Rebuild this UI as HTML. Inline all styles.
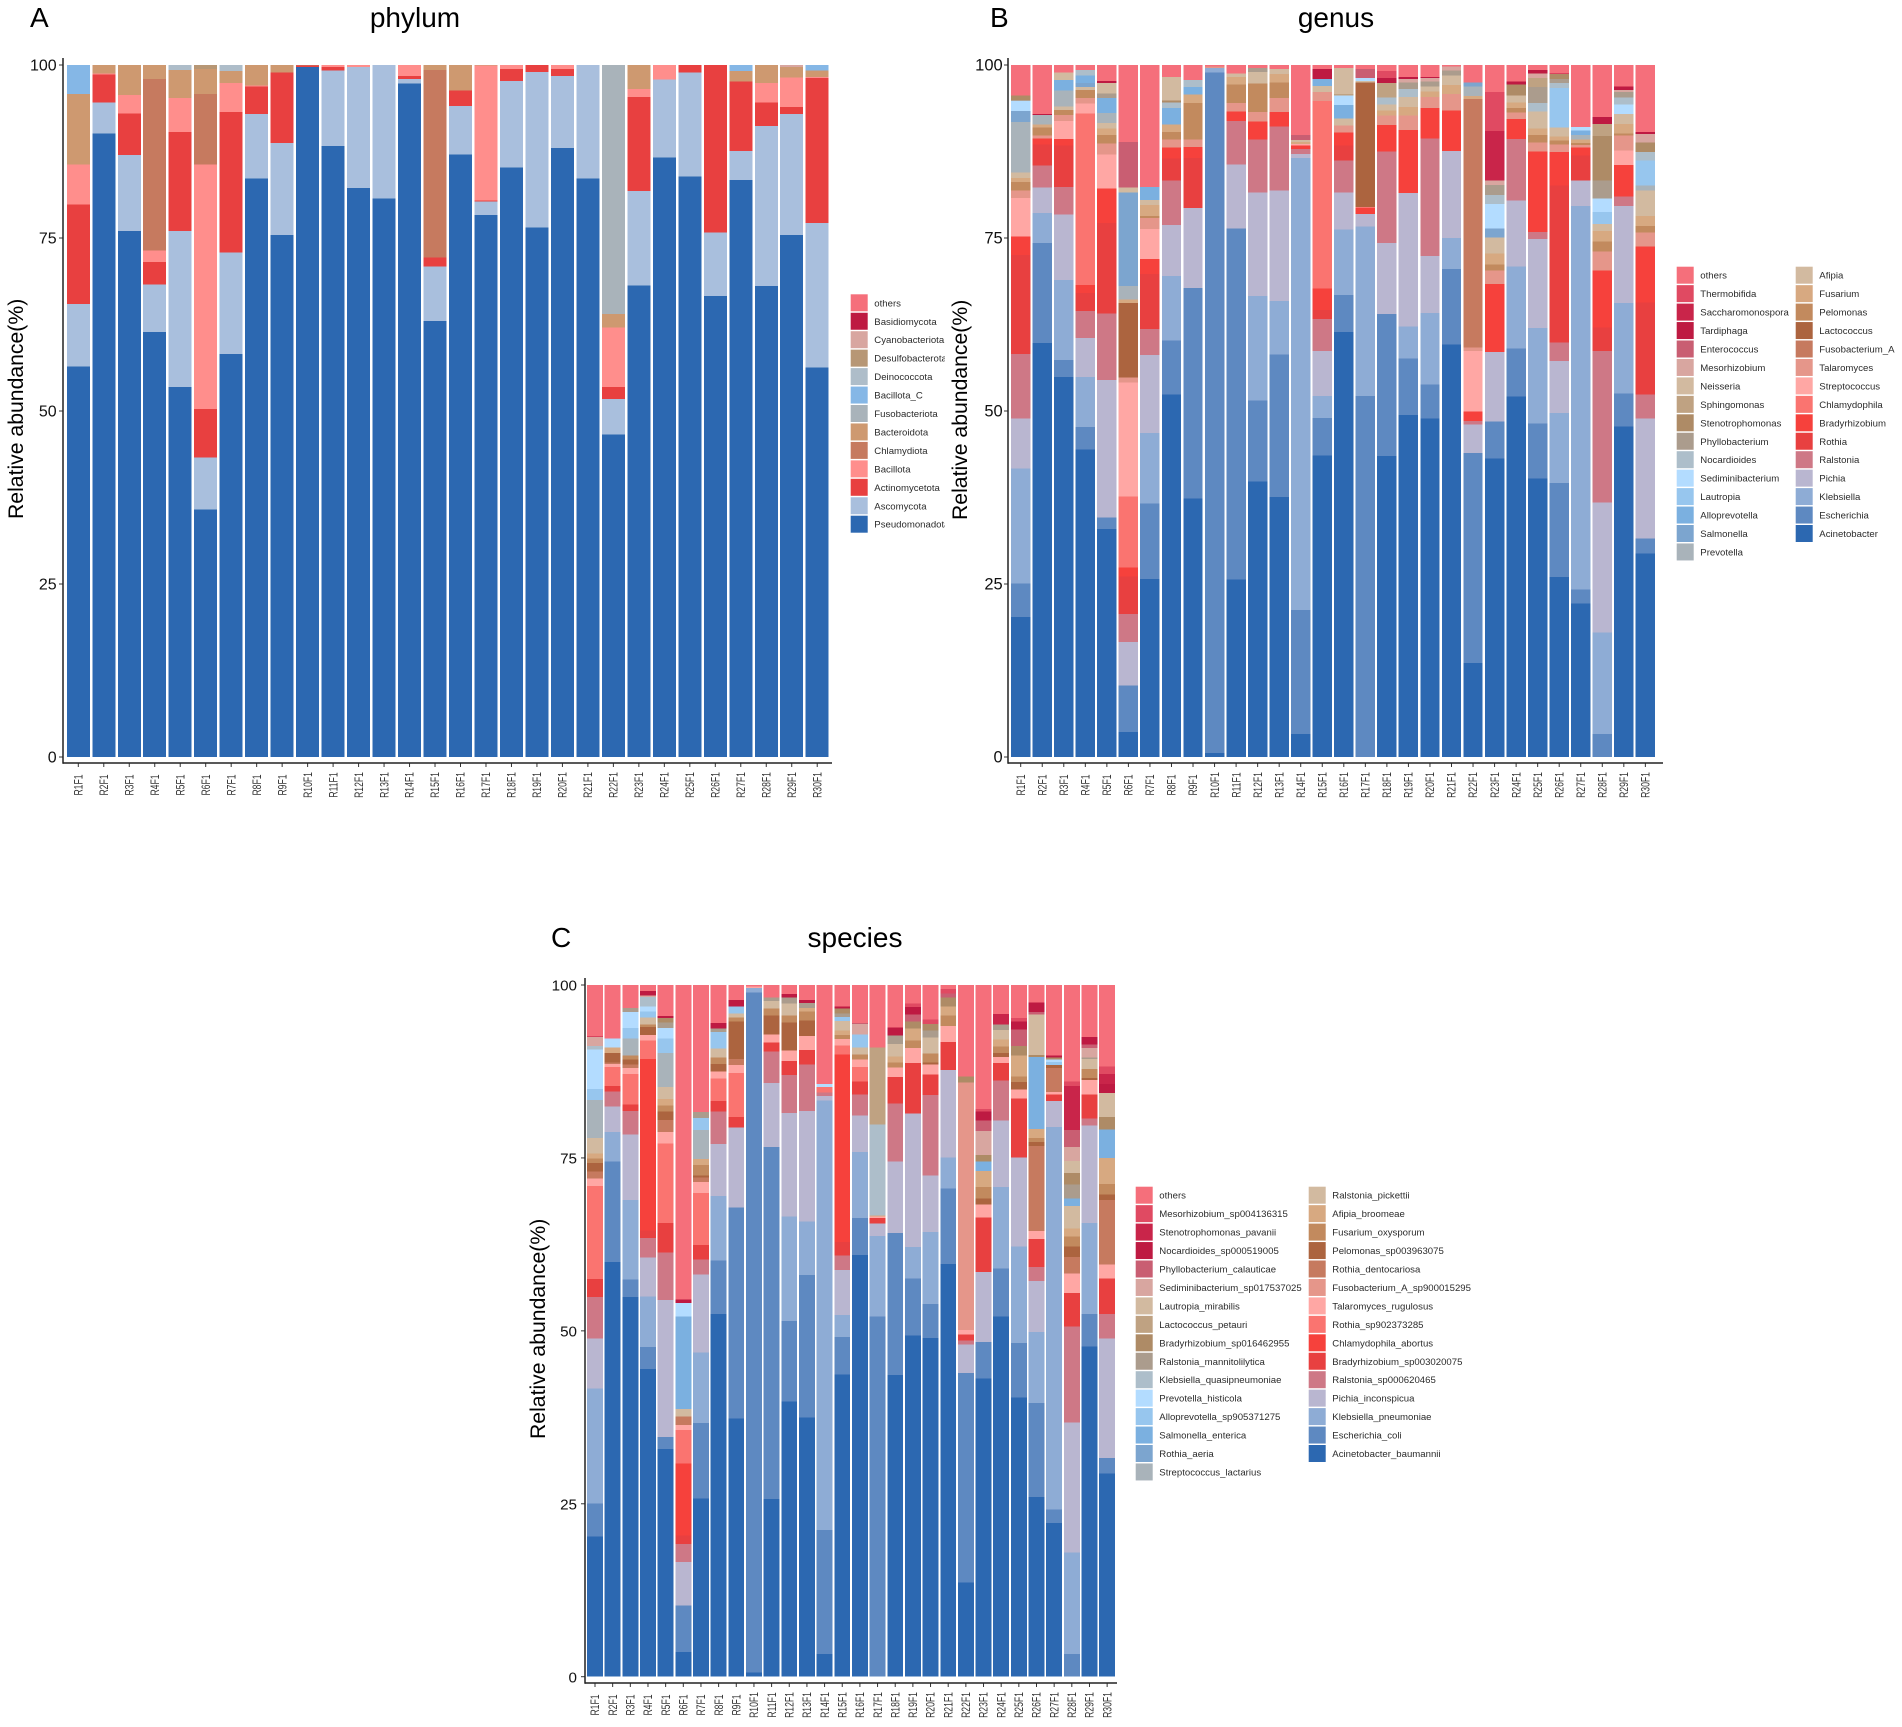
<!DOCTYPE html>
<html lang="en">
<head>
<meta charset="utf-8">
<title>Relative abundance by phylum, genus and species</title>
<style>
html,body{margin:0;padding:0;background:#fff;}
svg{display:block;font-family:"Liberation Sans",Arial,sans-serif;}
</style>
</head>
<body>
<svg id="figure" xmlns="http://www.w3.org/2000/svg" width="1902" height="1727" viewBox="0 0 1902 1727">
<rect x="0" y="0" width="1902" height="1727" fill="#ffffff"/>
<defs><clipPath id="phylum-legend-clip"><rect x="840" y="280" width="105" height="270"/></clipPath></defs>
<text x="30" y="27" font-size="28" fill="#000">A</text>
<text x="990" y="27" font-size="28" fill="#000">B</text>
<text x="551" y="947" font-size="28" fill="#000">C</text>
<text x="415" y="27" font-size="28" text-anchor="middle" fill="#000">phylum</text>
<text x="1336" y="27" font-size="28" text-anchor="middle" fill="#000">genus</text>
<text x="855" y="947" font-size="28" text-anchor="middle" fill="#000">species</text>
<text transform="translate(23,519) rotate(-90)" font-size="21.2" fill="#000">Relative abundance(%)</text>
<text transform="translate(967,520) rotate(-90)" font-size="21.2" fill="#000">Relative abundance(%)</text>
<text transform="translate(545,1439) rotate(-90)" font-size="21.2" fill="#000">Relative abundance(%)</text>
<g id="panel-a"></g>
<g id="panel-b"></g>
<g id="panel-c"></g>
</svg>
<script>
const sampleLabels=["R1F1","R2F1","R3F1","R4F1","R5F1","R6F1","R7F1","R8F1","R9F1","R10F1","R11F1","R12F1","R13F1","R14F1","R15F1","R16F1","R17F1","R18F1","R19F1","R20F1","R21F1","R22F1","R23F1","R24F1","R25F1","R26F1","R27F1","R28F1","R29F1","R30F1"];
const yTickValues=[0,25,50,75,100];

const phylumTaxa=["Pseudomonadota","Ascomycota","Actinomycetota","Bacillota","Chlamydiota","Bacteroidota","Fusobacteriota","Bacillota_C","Deinococcota","Desulfobacterota","Cyanobacteriota","Basidiomycota","others"];
const phylumColors=["#2C68B1","#A9BFDD","#E84040","#FF8E8C","#C67A5F","#CE9970","#A9B3BA","#85B7E6","#AEBDC9","#B79775","#D8A6A0","#BE1A42","#F56F7B"];
const phylumR1=[56.5,9,14.4,5.8,0,10.2,0,4.2,0,0,0,0,0];
const phylumR2=[90.1,4.5,4,.2,0,1.2,0,0,0,0,0,0,0];
const phylumR3=[76,11,6,2.7,0,4.3,0,0,0,0,0,0,0];
const phylumR4=[61.4,6.9,3.2,1.7,24.8,2,0,0,0,0,0,0,0];
const phylumR5=[53.5,22.5,14.3,4.9,0,4.1,0,0,.7,0,0,0,0];
const phylumR6=[35.8,7.5,7,35.3,10.2,3.6,0,0,0,.6,0,0,0];
const phylumR7=[58.2,14.6,20.3,4.2,0,1.7,0,0,.9,0,0,0,0];
const phylumR8=[83.7,9.3,4,.1,0,3,0,0,0,0,0,0,0];
const phylumR9=[75.4,13.3,10.2,0,0,1.1,0,0,0,0,0,0,0];
const phylumR10=[99.7,0,.2,0,.1,0,0,0,0,0,0,0,0];
const phylumR11=[88.3,10.9,.5,.3,0,0,0,0,0,0,0,0,0];
const phylumR12=[82.2,17.5,0,.3,0,0,0,0,0,0,0,0,0];
const phylumR13=[80.7,19.3,0,0,0,0,0,0,0,0,0,0,0];
const phylumR14=[97.3,.7,.4,1.6,0,0,0,0,0,0,0,0,0];
const phylumR15=[63,7.9,1.3,0,27.1,.7,0,0,0,0,0,0,0];
const phylumR16=[87.1,7,2.2,0,0,3.7,0,0,0,0,0,0,0];
const phylumR17=[78.3,2,.1,19.5,0,.1,0,0,0,0,0,0,0];
const phylumR18=[85.2,12.5,1.7,.6,0,0,0,0,0,0,0,0,0];
const phylumR19=[76.5,22.5,1,0,0,0,0,0,0,0,0,0,0];
const phylumR20=[88,10.4,1,.6,0,0,0,0,0,0,0,0,0];
const phylumR21=[83.6,16.4,0,0,0,0,0,0,0,0,0,0,0];
const phylumR22=[46.6,5.1,1.8,8.6,0,1.9,36,0,0,0,0,0,0];
const phylumR23=[68.1,13.7,13.6,1.1,0,3.5,0,0,0,0,0,0,0];
const phylumR24=[86.6,11.3,0,2.1,0,0,0,0,0,0,0,0,0];
const phylumR25=[83.9,15,1.1,0,0,0,0,0,0,0,0,0,0];
const phylumR26=[66.6,9.2,24.2,0,0,0,0,0,0,0,0,0,0];
const phylumR27=[83.4,4.2,10,0,0,1.5,0,.9,0,0,0,0,0];
const phylumR28=[68,23.1,3.4,2.8,0,2.6,0,0,0,0,0,0,0];
const phylumR29=[75.4,17.5,1,4.3,0,1.5,0,0,0,0,.3,0,0];
const phylumR30=[56.3,20.9,20.9,.2,0,.9,0,.8,0,0,0,0,0];
const phylumStacks=[phylumR1,phylumR2,phylumR3,phylumR4,phylumR5,phylumR6,phylumR7,phylumR8,phylumR9,phylumR10,phylumR11,phylumR12,phylumR13,phylumR14,phylumR15,phylumR16,phylumR17,phylumR18,phylumR19,phylumR20,phylumR21,phylumR22,phylumR23,phylumR24,phylumR25,phylumR26,phylumR27,phylumR28,phylumR29,phylumR30];

const sharedColors=["#2C68B1","#5E89C1","#8EACD5","#B9B6D0","#CE7886","#E84040","#F6413C","#FA7470","#FFA7A4","#E5968A","#C67A5F","#AC643F","#C28A5E","#D7A981","#D2BAA0","#A9B3BA","#7CA5CF","#7BB0E0","#97C6EE","#B3DCFF","#ADBECA","#AB9C8D","#AE8B66","#BFA282","#D2BAA0","#D8A6A0","#C95E72","#BE1A42","#C9254A","#E04A62","#F56F7B"];

const genusTaxa=["Acinetobacter","Escherichia","Klebsiella","Pichia","Ralstonia","Rothia","Bradyrhizobium","Chlamydophila","Streptococcus","Talaromyces","Fusobacterium_A","Lactococcus","Pelomonas","Fusarium","Afipia","Prevotella","Salmonella","Alloprevotella","Lautropia","Sediminibacterium","Nocardioides","Phyllobacterium","Stenotrophomonas","Sphingomonas","Neisseria","Mesorhizobium","Enterococcus","Tardiphaga","Saccharomonospora","Thermobifida","others"];
const genusR1=[20.2,4.8,16.6,7.2,9.3,14.3,2.7,0,5.5,1.1,0,0,1.2,.6,.8,7.3,1.6,0,0,1.4,.1,0,.7,0,0,0,0,0,0,0,4.4];
const genusR2=[59.8,14.5,4.3,3.7,3.2,3,.9,0,0,.4,0,0,1.2,.4,0,1.4,0,0,0,0,0,0,0,0,0,0,0,.1,0,0,7.1];
const genusR3=[54.9,2.5,11.5,9.5,4,6,.9,0,2.6,.9,0,0,.7,0,.5,2.3,0,1.5,0,0,0,0,0,0,1.1,0,0,0,0,0,1.1];
const genusR4=[44.5,3.2,7.3,5.6,3.9,2.6,1.2,24.8,1.4,.8,0,0,1.2,0,.4,0,.6,1.1,0,0,.8,0,0,0,0,0,0,0,0,0,.7];
const genusR5=[32.9,1.7,0,19.8,9.6,13.1,5,0,4.9,1.6,0,0,1.2,.9,.8,1.5,0,2.1,0,0,0,.7,0,0,1.5,0,0,.3,0,0,2.3];
const genusR6=[3.6,6.7,0,6.3,4,5.4,1.3,10.3,16.4,.7,0,10.8,0,.5,0,1.9,13.5,0,0,0,0,0,0,0,.7,0,6.6,0,0,0,11.1];
const genusR7=[25.7,10.9,10.2,11.2,3.8,7.9,2.2,0,4.3,1.6,0,0,.3,1.6,.7,0,0,1.9,0,0,0,0,0,0,0,0,0,0,0,0,17.6];
const genusR8=[52.4,7.8,9.3,7.4,6.4,3.2,1.6,0,0,1.1,0,0,1.1,1.1,0,0,0,2.4,0,0,.8,0,.3,0,3.4,0,0,0,0,0,1.7];
const genusR9=[37.4,30.5,0,11.6,0,7.2,1.6,0,0,1.1,0,0,5.3,1.2,0,0,0,1.1,0,0,1,0,0,0,0,0,0,0,0,0,2.2];
const genusR10=[.6,98.2,.7,0,0,0,0,0,0,.2,0,0,0,0,0,0,0,0,0,0,0,0,0,0,0,0,0,0,0,0,.2];
const genusR11=[25.6,50.7,0,9.2,6.3,0,1.4,0,0,1.2,0,0,2.7,1.1,0,0,0,0,0,0,0,0,0,0,.5,0,0,0,0,0,1.2];
const genusR12=[39.8,11.7,15.1,15,7.6,0,2.6,0,0,1.4,0,0,4.1,0,1.7,0,0,0,0,0,0,.6,0,0,0,0,0,0,0,0,.4];
const genusR13=[37.5,20.6,7.7,16,9.2,0,2.1,0,0,2,0,0,2.3,1.2,0,0,0,0,0,0,0,0,0,0,.7,0,0,0,0,0,.6];
const genusR14=[3.3,17.9,65.2,.6,.7,0,.5,0,.2,0,0,0,0,.3,.3,0,0,0,0,0,0,0,0,0,0,0,.7,0,0,0,10.1];
const genusR15=[43.6,5.4,3.2,6.5,4.6,1.3,3.1,27.1,0,1.3,0,0,0,0,.9,0,0,1,0,0,0,0,0,0,0,0,0,1.4,0,0,.6];
const genusR16=[61.3,5.3,9.5,5.3,4.6,2.2,1.9,0,0,1,0,0,0,0,1,0,0,1.9,0,1.4,0,0,0,.2,3.8,0,0,0,0,0,.4];
const genusR17=[0,52.1,24.5,1.8,0,0,.9,0,.1,0,0,18,0,0,.2,0,0,0,0,.4,0,0,0,0,0,0,1.3,0,0,0,.6];
const genusR18=[43.5,20.5,0,10.3,13.2,0,3.8,0,0,1.4,0,0,0,.7,.9,0,0,0,0,0,1,0,0,2.1,0,0,0,.7,0,1,.9];
const genusR19=[49.4,8.2,4.6,19.3,0,0,9.1,0,0,2.1,0,0,0,1.2,1.5,0,0,0,0,0,1.1,1,0,0,0,.5,0,.3,0,0,1.7];
const genusR20=[48.9,4.9,10.3,8.2,17,0,4.4,0,0,1.6,0,0,0,.8,.7,0,0,0,0,0,0,.7,0,0,0,.5,0,.2,0,0,1.7];
const genusR21=[59.6,10.9,4.5,12.6,0,0,5.8,0,0,2.4,0,0,0,1.3,1.4,0,0,0,0,0,0,.7,0,0,0,.6,0,0,0,0,.2];
const genusR22=[13.6,30.3,0,4.1,.5,0,1.4,0,8.7,.5,35.9,0,0,.4,0,1.4,.6,0,0,0,0,0,0,0,0,0,0,0,0,0,2.5];
const genusR23=[43.1,5.3,0,10.1,0,0,9.8,0,0,1.9,0,0,.9,1.6,2.3,0,1.3,0,0,3.5,1.3,1.5,0,0,0,.6,0,0,7.2,5.6,3.9];
const genusR24=[52.1,6.9,11.9,9.5,8.9,0,2.9,0,0,.9,0,0,.7,.8,1,0,0,0,0,0,0,0,1.6,0,0,0,0,.4,0,0,2.4];
const genusR25=[40.3,8,13.8,12.9,1,0,11.7,0,0,1.3,0,0,1.1,.9,2.5,0,0,0,0,0,1.2,2.3,0,1.3,0,.7,0,.5,0,0,.7];
const genusR26=[26,13.6,10.1,7.5,2.7,22.7,4.8,0,0,1.1,0,0,.6,.6,1.3,0,0,0,5.7,0,.7,.6,.7,0,0,0,0,.1,0,0,1.2];
const genusR27=[22.2,2,55.5,3.7,0,3.6,1.2,0,0,.3,0,0,.3,.5,0,.7,0,.6,0,.5,0,0,0,0,0,0,0,0,0,0,9];
const genusR28=[0,3.3,14.7,18.8,21.9,3.4,8.3,0,0,2.7,0,0,1.5,1.5,1,0,0,0,1.7,2,0,2.6,6.4,1.8,0,0,0,1,0,0,7.5];
const genusR29=[47.7,4.7,13.1,14,1.3,0,4.6,0,2.1,2.1,0,0,.3,1.4,1.4,0,0,0,0,1.4,1,.8,0,0,0,.3,0,.5,0,0,3.1];
const genusR30=[29.4,2.2,0,17.3,3.5,13.3,8.1,0,0,2,0,0,.9,1.5,3.7,.7,0,0,3.6,0,1.2,0,1.4,0,0,1.2,0,.3,0,0,9.7];
const genusStacks=[genusR1,genusR2,genusR3,genusR4,genusR5,genusR6,genusR7,genusR8,genusR9,genusR10,genusR11,genusR12,genusR13,genusR14,genusR15,genusR16,genusR17,genusR18,genusR19,genusR20,genusR21,genusR22,genusR23,genusR24,genusR25,genusR26,genusR27,genusR28,genusR29,genusR30];

const speciesTaxa=["Acinetobacter_baumannii","Escherichia_coli","Klebsiella_pneumoniae","Pichia_inconspicua","Ralstonia_sp000620465","Bradyrhizobium_sp003020075","Chlamydophila_abortus","Rothia_sp902373285","Talaromyces_rugulosus","Fusobacterium_A_sp900015295","Rothia_dentocariosa","Pelomonas_sp003963075","Fusarium_oxysporum","Afipia_broomeae","Ralstonia_pickettii","Streptococcus_lactarius","Rothia_aeria","Salmonella_enterica","Alloprevotella_sp905371275","Prevotella_histicola","Klebsiella_quasipneumoniae","Ralstonia_mannitolilytica","Bradyrhizobium_sp016462955","Lactococcus_petauri","Lautropia_mirabilis","Sediminibacterium_sp017537025","Phyllobacterium_calauticae","Nocardioides_sp000519005","Stenotrophomonas_pavanii","Mesorhizobium_sp004136315","others"];
const speciesR1=[20.2,4.8,16.6,7.2,6,2.6,0,13.4,1.1,0,1,1.2,.7,.7,2.2,5.5,0,0,1.6,5.7,.5,0,0,0,0,1.3,0,.1,0,0,7.4];
const speciesR2=[59.8,14.5,4.3,3.7,2.1,.8,0,2.8,.4,0,.2,1.4,0,.8,0,0,0,0,0,1.3,0,0,0,0,0,0,0,0,0,0,7.7];
const speciesR3=[54.9,2.5,11.5,9.5,3.4,.9,0,4.4,.9,0,.5,.7,.6,0,0,2.5,0,0,1.5,2.3,0,.6,0,0,0,0,0,0,0,0,3.3];
const speciesR4=[44.5,3.2,7.3,5.6,2.8,1.1,24.8,2.7,.8,0,0,1.1,.4,0,1,0,0,0,.9,.7,1.4,0,0,0,0,.2,0,.6,0,0,.9];
const speciesR5=[32.9,1.7,0,19.8,6.9,4.2,0,11.5,1.7,0,1.7,1.2,.9,.9,1.8,4.9,0,0,2.1,1.5,0,.8,.6,0,0,0,0,.3,0,0,4.5];
const speciesR6=[3.6,6.7,0,6.3,2.6,1.2,10.4,4.9,.7,0,1.2,0,0,0,1.1,0,0,13.4,0,1.9,0,0,0,0,0,0,0,.5,0,0,45.5];
const speciesR7=[25.7,10.9,10.2,11.2,2.2,2.1,0,7.5,1.6,0,.6,.3,1.5,.9,0,4.2,0,0,1.7,0,0,.9,0,0,0,0,0,0,0,0,18.3];
const speciesR8=[52.4,7.8,9.3,7.5,4.7,1.5,0,3.3,1,0,0,1.1,.9,0,1.3,0,0,0,2.4,0,0,.5,0,0,0,0,0,.8,0,0,5.5];
const speciesR9=[37.4,30.5,0,11.6,0,1.5,0,6.4,1.1,0,.9,5.4,.6,0,.6,0,0,0,1,0,0,0,0,0,0,0,0,.9,0,0,2.2];
const speciesR10=[.6,98.2,.7,0,0,0,0,0,.2,0,0,0,0,0,0,0,0,0,0,0,0,0,0,0,0,0,0,0,0,0,.2];
const speciesR11=[25.6,50.7,0,9.2,4.5,1.3,0,0,1.2,0,0,2.7,1,0,1.1,0,0,0,0,0,0,.5,0,0,0,0,0,0,0,0,1.8];
const speciesR12=[39.8,11.7,15.1,15,5.5,2,0,0,1.5,0,0,4.1,1,0,1.7,0,0,0,0,0,0,.9,0,0,0,0,0,.5,0,0,1.3];
const speciesR13=[37.5,20.6,7.7,16,6.7,2.1,0,0,2,0,0,2.3,1.3,.5,0,0,0,0,0,0,0,.7,0,0,0,0,0,.4,0,0,2.2];
const speciesR14=[3.3,17.9,62,.7,.5,0,0,.8,0,0,0,0,0,0,0,0,0,0,0,.4,0,0,0,0,0,0,0,0,0,0,14.3];
const speciesR15=[43.6,5.4,3.2,6.5,2.1,1.9,27.1,1.3,.9,0,0,0,.6,.6,1.4,0,0,0,.6,0,0,.5,.7,0,0,0,0,.3,0,0,3.1];
const speciesR16=[61.3,5.4,9.6,5.3,3.1,1.9,0,2.1,1.1,0,0,0,.7,0,1,0,0,0,1.9,0,0,0,0,0,0,1.6,0,.1,0,0,5.5];
const speciesR17=[0,52.1,11.6,1.8,0,.8,0,0,.2,0,0,0,0,.2,0,0,0,0,0,0,13.1,0,0,11.2,0,0,0,0,0,0,9];
const speciesR18=[43.5,20.5,0,10.3,8.4,3.8,0,0,1.4,0,0,0,.7,.9,1.8,0,0,0,0,0,0,1.2,0,0,0,0,0,1.2,0,0,6.1];
const speciesR19=[49.4,8.2,4.6,19.3,0,7.3,0,0,2.2,0,0,0,1.1,1.7,0,0,0,0,0,0,0,0,1,0,0,0,1,1.1,0,.5,2.7];
const speciesR20=[48.9,4.9,10.4,8.2,11.6,3,0,0,1.4,0,0,.3,1.3,0,2.3,0,0,0,0,0,0,1,1,0,0,0,0,0,0,.6,5];
const speciesR21=[59.6,10.9,4.5,12.6,0,4.1,0,0,2.3,0,0,0,1.5,1.3,0,0,0,0,0,0,0,0,1.3,0,0,0,.6,0,0,.6,.6];
const speciesR22=[13.6,30.3,0,4.1,.6,.9,0,0,.6,35.8,0,0,0,0,0,0,0,0,0,0,0,0,.9,0,0,0,0,0,0,0,13.2];
const speciesR23=[43.1,5.3,0,10.1,0,7.9,0,0,1.9,0,0,.8,1.7,2.3,0,0,0,1.4,0,0,0,0,.9,0,0,3.5,1.5,1.3,0,.4,17.9];
const speciesR24=[52.1,6.9,11.8,9.6,5.8,2.5,0,0,.9,0,0,.6,.9,1,1.4,0,0,0,0,0,0,.8,0,0,0,0,0,0,1.5,0,4.2];
const speciesR25=[40.3,7.9,13.9,12.9,0,8.5,0,0,1.3,0,0,1.1,.8,3,0,0,0,0,0,0,0,0,1.4,0,0,0,2.4,1.1,0,.5,4.8];
const speciesR26=[26,13.6,10.2,7.4,2,4.1,0,0,1.1,0,12.3,.6,.6,1.3,0,0,0,10.4,0,0,0,0,.3,0,5.8,0,.4,1.4,0,0,2.5];
const speciesR27=[22.2,2,55.3,3.7,0,1,0,0,.3,0,3.5,.4,0,0,0,0,0,0,.5,.3,0,0,.3,0,0,0,0,.3,0,0,10.2];
const speciesR28=[0,3.3,14.7,18.8,13.9,4.9,0,0,2.8,0,2.4,1.5,1.5,1.1,3.3,0,0,1.1,0,0,0,2,1.7,0,1.7,2,2.5,0,6.4,.6,14];
const speciesR29=[47.7,4.7,13.1,14.1,1,3.5,0,0,2.1,0,0,.3,1.3,0,1.4,0,0,0,0,0,0,.2,0,0,0,1.4,.5,1.1,0,0,7.5];
const speciesR30=[29.4,2.2,0,17.3,3.5,5.2,0,0,2,0,9.3,.8,1.5,3.8,0,0,0,4.1,0,0,0,0,1.8,0,3.5,0,0,1.3,1.4,1.1,11.8];
const speciesStacks=[speciesR1,speciesR2,speciesR3,speciesR4,speciesR5,speciesR6,speciesR7,speciesR8,speciesR9,speciesR10,speciesR11,speciesR12,speciesR13,speciesR14,speciesR15,speciesR16,speciesR17,speciesR18,speciesR19,speciesR20,speciesR21,speciesR22,speciesR23,speciesR24,speciesR25,speciesR26,speciesR27,speciesR28,speciesR29,speciesR30];

const SVG_NS="http://www.w3.org/2000/svg";

function make(parent,tag,attrs,text){
  const el=document.createElementNS(SVG_NS,tag);
  for(const k in attrs){el.setAttribute(k,attrs[k]);}
  if(text!==undefined){el.textContent=text;}
  parent.appendChild(el);
  return el;
}

function drawPanel(groupId,stacks,taxa,colors,layout){
  const root=document.getElementById(groupId);
  const yScale=function(v){return layout.y0-v*(layout.y0-layout.y100)/100;};
  const xScale=function(i){return layout.firstCenter+i*layout.step;};

  stacks.forEach(function(stack,i){
    const total=stack.reduce(function(a,b){return a+b;},0);
    let cum=0;
    stack.forEach(function(value,t){
      if(value<=0){return;}
      const yTop=yScale((cum+value)/total*100);
      const yBottom=yScale(cum/total*100);
      cum+=value;
      const seg=make(root,'rect',{x:xScale(i)-layout.barWidth/2,y:yTop,width:layout.barWidth,height:yBottom-yTop,fill:colors[t],'shape-rendering':'crispEdges'});
      
      
    });
    const tick=make(root,'line',{x1:xScale(i),x2:xScale(i),y1:layout.axisY,y2:layout.axisY+4,stroke:'#333','stroke-width':1});
    
    
    const label=make(root,'text',{transform:'translate('+(xScale(i)+4.2)+','+(layout.axisY+22)+') rotate(-90) scale(0.72,1)','font-size':12,'text-anchor':'middle',fill:'#333'},sampleLabels[i]);
    
    
  });

  yTickValues.forEach(function(v){
    const tick=make(root,'line',{x1:layout.axisX-4,x2:layout.axisX,y1:yScale(v),y2:yScale(v),stroke:'#333','stroke-width':1});
    
    
    const label=make(root,'text',{x:layout.tickTextX,y:yScale(v)+5.7,'font-size':layout.tickFont,'text-anchor':'end',fill:'#111'},String(v));
    
    
  });

  const yAxis=make(root,'line',{x1:layout.axisX,x2:layout.axisX,y1:layout.y100-7,y2:layout.axisY+0.75,stroke:'#222','stroke-width':1.5});
  
  
  const xAxis=make(root,'line',{x1:layout.axisX,x2:layout.axisEnd,y1:layout.axisY,y2:layout.axisY,stroke:'#222','stroke-width':1.5});
  
  

  const legend=make(root,'g',{});
  
  
  if(layout.clipLegend){legend.setAttribute('clip-path','url(#phylum-legend-clip)');}
  const ordered=taxa.map(function(name,t){return {name:name,color:colors[t]};}).reverse();
  ordered.forEach(function(entry,k){
    const col=k<layout.legendRows?0:1;
    const row=col===0?k:k-layout.legendRows;
    const sy=layout.legendTop+row*18.45;
    const item=make(legend,'g',{});
    
    
    const swatch=make(item,'rect',{x:layout.legendX[col],y:sy,width:17,height:17,fill:entry.color});
    
    
    const text=make(item,'text',{x:layout.legendX[col]+23.6,y:sy+12,'font-size':9.6,fill:'#2b2b2b'},entry.name);
    
    
  });
}

drawPanel('panel-a',phylumStacks,phylumTaxa,phylumColors,{y0:757,y100:65,axisY:763,axisX:63,axisEnd:832,firstCenter:78.3,step:25.48,barWidth:23,tickTextX:56.7,tickFont:16,legendTop:294.3,legendX:[850.7],legendRows:13,clipLegend:true});
drawPanel('panel-b',genusStacks,genusTaxa,sharedColors,{y0:757,y100:65,axisY:763,axisX:1008,axisEnd:1663,firstCenter:1020.7,step:21.54,barWidth:19.4,tickTextX:1002.7,tickFont:16.5,legendTop:266.7,legendX:[1676.7,1795.7],legendRows:16,clipLegend:false});
drawPanel('panel-c',speciesStacks,speciesTaxa,sharedColors,{y0:1676.7,y100:985,axisY:1683,axisX:585,axisEnd:1117,firstCenter:595,step:17.66,barWidth:15.9,tickTextX:577,tickFont:15.2,legendTop:1186.7,legendX:[1135.7,1308.7],legendRows:16,clipLegend:false});
</script>
</body>
</html>
